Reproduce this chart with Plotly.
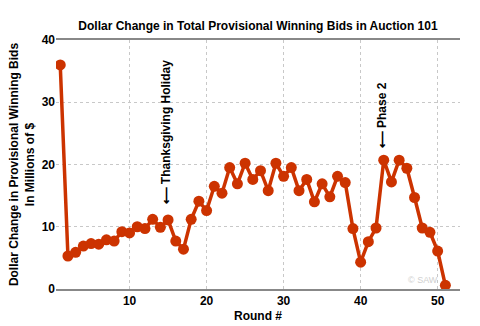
import plotly.graph_objects as go

# Auction 101: per-round dollar change in total provisional winning bids ($M)
rounds = list(range(1, 52))
change_musd = [
    36.0, 5.3, 5.9, 6.9, 7.3, 7.2, 7.9, 7.7, 9.2, 9.0,
    10.0, 9.7, 11.2, 9.9, 11.1, 7.7, 6.4, 11.2, 14.1, 12.6,
    16.5, 15.4, 19.5, 16.9, 20.2, 17.6, 19.0, 15.8, 20.2, 18.1,
    19.5, 15.8, 17.6, 14.0, 16.9, 14.8, 18.1, 17.1, 9.7, 4.3,
    7.6, 9.8, 20.7, 17.2, 20.7, 19.4, 14.7, 9.8, 9.1, 6.1,
    0.6,
]

# rotated call-outs: (round, value at arrow tip, text)
notes_x = [14.7, 42.8]
notes_y = [13.3, 22.3]
notes_text = ["\u27f5 Thanksgiving Holiday", "\u27f5 Phase 2"]

x_ticks = [10, 20, 30, 40, 50]
y_ticks = [0, 10, 20, 30, 40]

FONT = "Arial, Liberation Sans, sans-serif"
RED = "#cc3300"

fig = go.Figure()
fig.add_trace(go.Scatter(
    x=rounds, y=change_musd, mode="lines+markers",
    line=dict(color=RED, width=3.5),
    marker=dict(color=RED, size=11),
    showlegend=False, hoverinfo="x+y",
))

for nx, ny, nt in zip(notes_x, notes_y, notes_text):
    fig.add_annotation(
        x=nx, y=ny, xref="x", yref="y", text="<b>" + nt + "</b>",
        textangle=-90, showarrow=False, xanchor="center", yanchor="bottom",
        font=dict(family=FONT, size=12, color="#000000"),
    )

fig.add_annotation(
    x=1, y=0, xref="paper", yref="paper", xanchor="right", yanchor="bottom",
    xshift=-20, yshift=2, text="\u00a9 SAW", showarrow=False,
    font=dict(family=FONT, size=9, color="#d0d0d0"),
)

fig.update_layout(
    width=480, height=326,
    margin=dict(l=56, r=20, t=40, b=37),
    paper_bgcolor="white", plot_bgcolor="white",
    font=dict(family=FONT, size=12, color="#000000"),
    title=dict(
        text="<b>Dollar Change in Total Provisional Winning Bids in Auction 101</b>",
        x=0.5, xref="paper", xanchor="center", y=0.92, yanchor="middle",
        font=dict(family=FONT, size=12, color="#000000"),
    ),
    xaxis=dict(
        range=[0.45, 52.9], tickvals=x_ticks,
        ticktext=["<b>%d</b>" % v for v in x_ticks],
        showgrid=True, gridcolor="#c8c8c8", griddash="dot", gridwidth=1,
        showline=True, linecolor="#888888", linewidth=1.5, mirror=True,
        zeroline=False, ticks="", automargin=False,
        title=dict(text="<b>Round #</b>", standoff=4,
                   font=dict(family=FONT, size=12)),
    ),
    yaxis=dict(
        range=[0, 40], tickvals=y_ticks,
        ticktext=["<b>%d</b>" % v for v in y_ticks],
        showgrid=True, gridcolor="#c8c8c8", griddash="dot", gridwidth=1,
        showline=False, zeroline=False, ticks="", automargin=False,
        title=dict(text="<b>Dollar Change in Provisional Winning Bids<br>In Millions of $</b>",
                   standoff=4, font=dict(family=FONT, size=12)),
    ),
)

fig.write_html("out.html")
